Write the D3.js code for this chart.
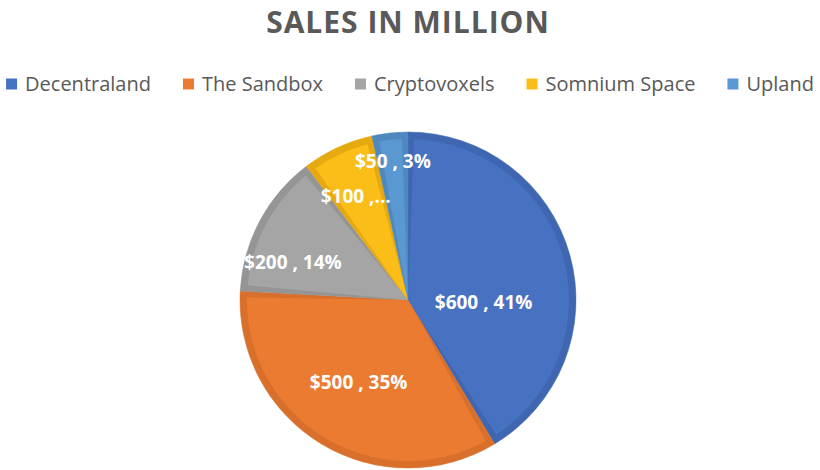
<!DOCTYPE html>
<html>
<head>
<meta charset="utf-8">
<script src="https://cdn.jsdelivr.net/npm/d3@7"></script>
<style>
  html, body { margin: 0; padding: 0; background: #fff; }
  svg { display: block; font-family: "Open Sans", "Noto Sans", sans-serif; }
</style>
</head>
<body>
<div id="chart"></div>
<script>
// data
var platforms = ['Decentraland', 'The Sandbox', 'Cryptovoxels', 'Somnium Space', 'Upland'];
var sales = [600, 500, 200, 100, 50];
var fillColors = ['#4672c1', '#eb7b31', '#a5a5a5', '#fbbd18', '#5a98d2'];
var edgeColors = ['#3f66b0', '#d86f2b', '#959595', '#e6aa10', '#4f88bf'];

(function () {
  'use strict';

  var width = 820, height = 470;
  var cx = 408, cy = 300, radius = 168;

  // label placement tweaks (Excel "best fit" look): radius fraction, angle shift (deg), truncate
  var labelLayout = [
    { f: 0.45, da: 17, cut: false },
    { f: 0.57, da: 0, cut: false },
    { f: 0.72, da: -10, cut: false },
    { f: 0.69, da: -2, cut: true },
    { f: 0.83, da: 0, cut: false }
  ];

  // percentages summing to 100 (largest remainder)
  var sum = d3.sum(sales);
  var raw = sales.map(function (v) { return v / sum * 100; });
  var pcts = raw.map(Math.floor);
  var left = 100 - d3.sum(pcts);
  d3.range(sales.length)
    .sort(function (a, b) { return (raw[b] - pcts[b]) - (raw[a] - pcts[a]); })
    .slice(0, left)
    .forEach(function (i) { pcts[i] += 1; });

  var svg = d3.select('#chart').append('svg')
    .attr('width', width)
    .attr('height', height);

  // title
  svg.append('text')
    .attr('x', cx)
    .attr('y', 33)
    .attr('text-anchor', 'middle')
    .attr('font-size', '30px')
    .attr('font-weight', 700)
    .attr('letter-spacing', '1px')
    .attr('fill', '#595959')
    .text('SALES IN MILLION');

  // legend — measure texts, then center the row
  var legend = svg.append('g');
  var sq = 11, gapSq = 8, gapItem = 32;
  var items = legend.selectAll('g')
    .data(platforms)
    .join('g');
  items.append('rect')
    .attr('width', sq)
    .attr('height', sq)
    .attr('y', -sq / 2)
    .attr('fill', function (d, i) { return fillColors[i]; });
  items.append('text')
    .attr('x', sq + gapSq)
    .attr('dy', '0.35em')
    .attr('font-size', '20px')
    .attr('fill', '#595959')
    .text(function (d) { return d; });
  var xpos = 0, offs = [];
  items.each(function () {
    offs.push(xpos);
    xpos += sq + gapSq + this.querySelector('text').getComputedTextLength() + gapItem;
  });
  var total = xpos - gapItem;
  var startX = (width - total) / 2;
  items.attr('transform', function (d, i) { return 'translate(' + (startX + offs[i]) + ',84)'; });

  // pie
  var pie = d3.pie().sort(null).value(function (d) { return d; });
  var arcs = pie(sales);

  var outer = d3.arc().innerRadius(0).outerRadius(radius);
  var inner = d3.arc().innerRadius(0).outerRadius(radius - 7)
    .padAngle(12 / (radius - 7));

  var g = svg.append('g').attr('transform', 'translate(' + cx + ',' + cy + ')');

  g.selectAll('path.edge')
    .data(arcs)
    .join('path')
    .attr('class', 'edge')
    .attr('d', outer)
    .attr('fill', function (d, i) { return edgeColors[i]; })
    .attr('stroke', function (d, i) { return edgeColors[i]; })
    .attr('stroke-width', 0.5);

  g.selectAll('path.face')
    .data(arcs)
    .join('path')
    .attr('class', 'face')
    .attr('d', inner)
    .attr('fill', function (d, i) { return fillColors[i]; });

  // data labels
  g.selectAll('text.lbl')
    .data(arcs)
    .join('text')
    .attr('class', 'lbl')
    .attr('transform', function (d, i) {
      var L = labelLayout[i];
      var a = (d.startAngle + d.endAngle) / 2 + L.da * Math.PI / 180;
      var r = radius * L.f;
      return 'translate(' + (r * Math.sin(a)) + ',' + (-r * Math.cos(a)) + ')';
    })
    .attr('text-anchor', 'middle')
    .attr('dy', '0.35em')
    .attr('font-size', '19px')
    .attr('font-weight', 700)
    .attr('fill', '#fff')
    .text(function (d, i) {
      if (labelLayout[i].cut) return '$' + d.value + ' ,...';
      return '$' + d.value + ' , ' + pcts[i] + '%';
    });
})();
</script>
</body>
</html>
